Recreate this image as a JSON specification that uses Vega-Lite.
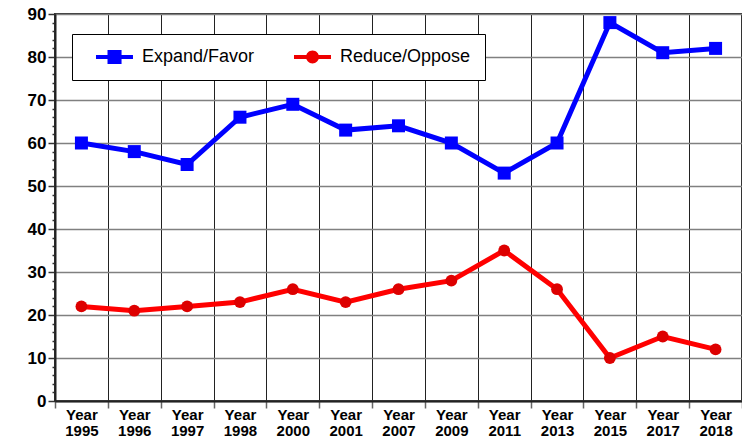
{
  "$schema": "https://vega.github.io/schema/vega-lite/v6.json",
  "width": 687,
  "height": 387,
  "autosize": {"type": "none"},
  "padding": {"left": 55, "top": 14, "right": 0, "bottom": 41},
  "background": "white",
  "config": {
    "view": {"stroke": "#333333", "strokeWidth": 2},
    "font": "Liberation Sans"
  },
  "data": {
    "values": [
      {"year": "Year 1995", "series": "Expand/Favor", "value": 60},
      {"year": "Year 1996", "series": "Expand/Favor", "value": 58},
      {"year": "Year 1997", "series": "Expand/Favor", "value": 55},
      {"year": "Year 1998", "series": "Expand/Favor", "value": 66},
      {"year": "Year 2000", "series": "Expand/Favor", "value": 69},
      {"year": "Year 2001", "series": "Expand/Favor", "value": 63},
      {"year": "Year 2007", "series": "Expand/Favor", "value": 64},
      {"year": "Year 2009", "series": "Expand/Favor", "value": 60},
      {"year": "Year 2011", "series": "Expand/Favor", "value": 53},
      {"year": "Year 2013", "series": "Expand/Favor", "value": 60},
      {"year": "Year 2015", "series": "Expand/Favor", "value": 88},
      {"year": "Year 2017", "series": "Expand/Favor", "value": 81},
      {"year": "Year 2018", "series": "Expand/Favor", "value": 82},
      {"year": "Year 1995", "series": "Reduce/Oppose", "value": 22},
      {"year": "Year 1996", "series": "Reduce/Oppose", "value": 21},
      {"year": "Year 1997", "series": "Reduce/Oppose", "value": 22},
      {"year": "Year 1998", "series": "Reduce/Oppose", "value": 23},
      {"year": "Year 2000", "series": "Reduce/Oppose", "value": 26},
      {"year": "Year 2001", "series": "Reduce/Oppose", "value": 23},
      {"year": "Year 2007", "series": "Reduce/Oppose", "value": 26},
      {"year": "Year 2009", "series": "Reduce/Oppose", "value": 28},
      {"year": "Year 2011", "series": "Reduce/Oppose", "value": 35},
      {"year": "Year 2013", "series": "Reduce/Oppose", "value": 26},
      {"year": "Year 2015", "series": "Reduce/Oppose", "value": 10},
      {"year": "Year 2017", "series": "Reduce/Oppose", "value": 15},
      {"year": "Year 2018", "series": "Reduce/Oppose", "value": 12}
    ]
  },
  "encoding": {
    "x": {
      "field": "year",
      "type": "nominal",
      "sort": null,
      "scale": {"type": "band", "paddingInner": 0, "paddingOuter": 0},
      "axis": {
        "title": null,
        "labelAngle": 0,
        "labelExpr": "split(datum.label, ' ')",
        "labelFontSize": 15,
        "labelFontWeight": "bold",
        "labelColor": "#000000",
        "labelLineHeight": 16,
        "labelBaseline": "top",
        "labelPadding": -1,
        "tickBand": "extent",
        "ticks": true,
        "tickSize": 7,
        "tickColor": "#666666",
        "tickWidth": 1.5,
        "domain": true,
        "domainColor": "#222222",
        "domainWidth": 2,
        "grid": true,
        "gridColor": "#222222",
        "gridWidth": 1
      }
    },
    "y": {
      "field": "value",
      "type": "quantitative",
      "scale": {"domain": [0, 90], "nice": false, "zero": true},
      "axis": {
        "title": null,
        "values": [0,2,4,6,8,10,12,14,16,18,20,22,24,26,28,30,32,34,36,38,40,42,44,46,48,50,52,54,56,58,60,62,64,66,68,70,72,74,76,78,80,82,84,86,88,90],
        "labelExpr": "datum.value % 10 == 0 ? datum.label : ''",
        "labelFontSize": 17,
        "labelFontWeight": "bold",
        "labelColor": "#000000",
        "labelPadding": 2,
        "tickSize": {"condition": {"test": "datum.value % 10 == 0", "value": 7}, "value": 3},
        "tickColor": "#333333",
        "tickWidth": 1.5,
        "domainColor": "#222222",
        "domainWidth": 2,
        "grid": true,
        "gridColor": "#808080",
        "gridWidth": 1.5,
        "gridOpacity": {"condition": {"test": "datum.value % 10 == 0", "value": 1}, "value": 0}
      }
    }
  },
  "layer": [
    {
      "mark": {"type": "line", "strokeWidth": 5},
      "encoding": {
        "color": {
          "field": "series",
          "type": "nominal",
          "scale": {"domain": ["Expand/Favor", "Reduce/Oppose"], "range": ["#0000ff", "#ff0000"]},
          "legend": {
            "title": null,
            "orient": "none",
            "legendX": 17,
            "legendY": 20,
            "direction": "horizontal",
            "columns": 2,
            "columnPadding": 29,
            "padding": 14,
            "strokeColor": "#000000",
            "fillColor": "#ffffff",
            "labelFont": "Liberation Sans",
            "labelFontSize": 18,
            "labelColor": "#000000",
            "labelOffset": 38,
            "labelExpr": "datum.label == 'Reduce/Oppose' ? datum.label + '\u00a0\u00a0' : datum.label",
            "symbolSize": 324,
            "symbolStrokeWidth": 0,
            "encode": {
              "symbols": {
                "update": {
                  "shape": {"signal": "datum.value == 'Expand/Favor' ? 'M0.11,-0.22H4.22V0.22H0.11Z M1.39,-0.78H2.95V0.78H1.39Z' : 'M0.11,-0.22H4.22V0.22H0.11Z M1.45,0A0.72,0.72 0 1,1 2.89,0A0.72,0.72 0 1,1 1.45,0Z'"},
                  "fill": {"signal": "datum.value == 'Expand/Favor' ? '#0000ff' : '#ee0000'"},
                  "fillOpacity": {"value": 1},
                  "strokeWidth": {"value": 0}
                }
              }
            }
          }
        }
      }
    },
    {
      "mark": {"type": "point", "filled": true, "opacity": 1},
      "encoding": {
        "shape": {
          "field": "series",
          "type": "nominal",
          "scale": {"domain": ["Expand/Favor", "Reduce/Oppose"], "range": ["square", "circle"]},
          "legend": null
        },
        "size": {
          "field": "series",
          "type": "nominal",
          "scale": {"domain": ["Expand/Favor", "Reduce/Oppose"], "range": [169, 140]},
          "legend": null
        },
        "color": {
          "field": "series",
          "type": "nominal",
          "scale": {"domain": ["Expand/Favor", "Reduce/Oppose"], "range": ["#0000ff", "#dd0000"]},
          "legend": null
        }
      }
    }
  ],
  "resolve": {"scale": {"color": "independent"}}
}
